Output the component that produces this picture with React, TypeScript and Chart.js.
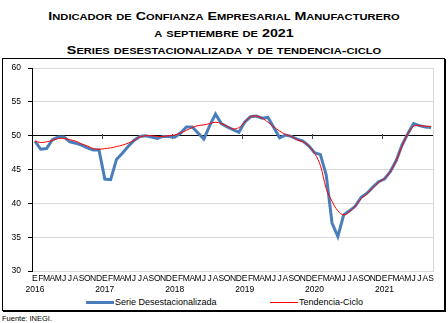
import React, { useEffect, useRef } from "react";
import { Chart, registerables } from "chart.js";

Chart.register(...registerables);

const FONT = "'Liberation Sans', Arial, sans-serif";

const titleLines = [
  "Indicador de Confianza Empresarial Manufacturero",
  "a septiembre de 2021",
  "Series desestacionalizada y de tendencia-ciclo",
];

const monthLetters = ["E", "F", "M", "A", "M", "J", "J", "A", "S", "O", "N", "D"];
const years = ["2016", "2017", "2018", "2019", "2020", "2021"];

const desestacionalizada = [
  49.2, 48.0, 48.1, 49.4, 49.8, 49.8, 49.1, 48.9, 48.6, 48.2, 47.9, 47.9,
  43.6, 43.5, 46.5, 47.4, 48.4, 49.3, 49.9, 50.0, 49.8, 49.6, 49.9, 49.9,
  49.8, 50.4, 51.3, 51.3, 50.4, 49.5, 51.5, 53.2, 51.8, 51.3, 50.9, 50.5,
  52.0, 52.8, 52.9, 52.6, 52.7, 51.2, 49.7, 50.1, 49.9, 49.5, 49.2, 48.5,
  47.5, 47.2, 44.2, 37.1, 35.1, 38.3, 38.9, 39.6, 40.9, 41.5, 42.4, 43.2,
  43.6, 44.7, 46.3, 48.6, 50.3, 51.8, 51.5, 51.3, 51.2,
];

const tendenciaCiclo = [
  49.2, 49.0, 49.1, 49.3, 49.6, 49.6, 49.4, 49.2, 48.8, 48.5, 48.1, 48.0,
  48.1, 48.2, 48.4, 48.6, 48.9, 49.3, 49.8, 50.0, 50.0, 49.9, 49.9, 50.0,
  50.1, 50.4, 50.8, 51.2, 51.5, 51.6, 51.8, 52.0, 51.8, 51.4, 51.0, 51.2,
  52.0, 52.8, 52.9, 52.6, 52.0, 51.3, 50.7, 50.2, 49.9, 49.4, 49.1, 48.5,
  47.4, 45.6, 42.2, 40.3, 38.9, 38.3, 38.8, 39.6, 40.7, 41.4, 42.3, 43.1,
  43.7, 44.7, 46.3, 48.4, 50.3, 51.4, 51.5, 51.4, 51.4,
];

const yMin = 30;
const yMax = 60;
const yStep = 5;
const refLine = 50;

const BLUE = "#4a7ebb";
const RED = "#ff0000";

const labels = desestacionalizada.map((_, i) =>
  i % 12 === 0 ? [monthLetters[i % 12], years[i / 12]] : monthLetters[i % 12]
);

const decorPlugin = {
  id: "decor",
  beforeDatasetsDraw(chart: any) {
    const { ctx, chartArea, scales } = chart;
    ctx.save();
    ctx.lineWidth = 1;
    ctx.strokeStyle = "#d9d9d9";
    const r = Math.round(chartArea.right) - 0.5;
    ctx.beginPath();
    ctx.moveTo(r, chartArea.top);
    ctx.lineTo(r, chartArea.bottom);
    ctx.stroke();
    const y50 = Math.round(scales.y.getPixelForValue(refLine)) + 0.5;
    ctx.strokeStyle = "#444";
    for (let k = 1; k < years.length; k++) {
      const x =
        Math.round(
          (scales.x.getPixelForValue(12 * k - 1) + scales.x.getPixelForValue(12 * k)) / 2
        ) + 0.5;
      ctx.beginPath();
      ctx.moveTo(x, y50 - 2.5);
      ctx.lineTo(x, y50 + 2.5);
      ctx.stroke();
    }
    ctx.restore();
  },
};

// Renders text in a small-caps style: uppercase and digits at full size, lowercase as smaller capitals
function SmallCaps({ text }: { text: string }) {
  const parts: { s: string; small: boolean }[] = [];
  for (const ch of text) {
    const small = ch !== ch.toUpperCase();
    const last = parts[parts.length - 1];
    if (last && last.small === small) last.s += ch;
    else parts.push({ s: ch, small });
  }
  return (
    <>
      {parts.map((p, i) =>
        p.small ? (
          <span key={i} style={{ fontSize: "0.78em", textTransform: "uppercase" }}>
            {p.s}
          </span>
        ) : (
          <span key={i}>{p.s}</span>
        )
      )}
    </>
  );
}

export default function App() {
  const canvasRef = useRef<HTMLCanvasElement | null>(null);

  useEffect(() => {
    if (!canvasRef.current) return;
    const chart = new Chart(canvasRef.current, {
      type: "line",
      data: {
        labels,
        datasets: [
          {
            label: "Tendencia-Ciclo",
            data: tendenciaCiclo,
            borderColor: RED,
            borderWidth: 1,
            pointRadius: 0,
            tension: 0.4,
            fill: false,
          },
          {
            label: "Serie Desestacionalizada",
            data: desestacionalizada,
            borderColor: BLUE,
            borderWidth: 3,
            pointRadius: 0,
            tension: 0,
            fill: false,
          },
        ],
      },
      options: {
        responsive: false,
        animation: false,
        layout: { padding: { top: 6.6, right: 14, left: 0, bottom: 0 } },
        plugins: {
          legend: { display: false },
          title: { display: false },
          tooltip: { enabled: false },
        },
        scales: {
          x: {
            type: "category",
            offset: true,
            grid: { display: false, drawTicks: false },
            border: { display: false },
            ticks: {
              autoSkip: false,
              maxRotation: 0,
              minRotation: 0,
              padding: 3,
              color: "#000",
              font: { family: FONT, size: 8.5 },
            },
            afterFit: (s: any) => {
              s.height = 25;
            },
          },
          y: {
            min: yMin,
            max: yMax,
            ticks: {
              stepSize: yStep,
              color: "#000",
              padding: 7,
              font: { family: FONT, size: 8.5 },
            },
            grid: {
              color: (c: any) => (c.tick && c.tick.value === refLine ? "#000" : "#d9d9d9"),
              tickColor: "#000",
              tickLength: 4,
              lineWidth: 1,
            },
            border: { color: "#000", width: 1 },
            afterFit: (s: any) => {
              s.width = 32;
            },
          },
        },
      },
      plugins: [decorPlugin],
    });
    return () => chart.destroy();
  }, []);

  return (
    <div
      style={{
        position: "absolute",
        left: 0,
        top: 0,
        width: 448,
        height: 323,
        fontFamily: FONT,
        color: "#000",
        overflow: "hidden",
      }}
    >
      <div
        style={{
          position: "absolute",
          left: 0,
          top: 8,
          width: 448,
          textAlign: "center",
          fontWeight: "bold",
          fontSize: 11.5,
          lineHeight: "16px",
          transform: "scaleX(1.24)",
          transformOrigin: "224px 0",
        }}
      >
        {titleLines.map((t, i) => (
          <div key={i} style={{ whiteSpace: "nowrap" }}>
            <SmallCaps text={t} />
          </div>
        ))}
      </div>
      <div
        style={{
          position: "absolute",
          left: 2,
          top: 58,
          width: 443,
          height: 253,
          boxSizing: "border-box",
          border: "1px solid #000",
          boxShadow: "1px 1px 0 #000",
        }}
      />
      <canvas
        ref={canvasRef}
        width={448}
        height={240}
        style={{ position: "absolute", left: 0, top: 56, width: 448, height: 240 }}
      />
      <div style={{ position: "absolute", left: 86, top: 301, width: 28, height: 3, background: BLUE }} />
      <div
        style={{
          position: "absolute",
          left: 115,
          top: 296,
          fontSize: 9,
          lineHeight: "12px",
          whiteSpace: "nowrap",
        }}
      >
        Serie Desestacionalizada
      </div>
      <div style={{ position: "absolute", left: 270, top: 302, width: 28, height: 1, background: RED }} />
      <div
        style={{
          position: "absolute",
          left: 299,
          top: 296,
          fontSize: 9,
          lineHeight: "12px",
          whiteSpace: "nowrap",
        }}
      >
        Tendencia-Ciclo
      </div>
      <div
        style={{
          position: "absolute",
          left: 2,
          top: 314,
          fontSize: 7.5,
          lineHeight: "9px",
          whiteSpace: "nowrap",
        }}
      >
        Fuente: INEGI.
      </div>
    </div>
  );
}
